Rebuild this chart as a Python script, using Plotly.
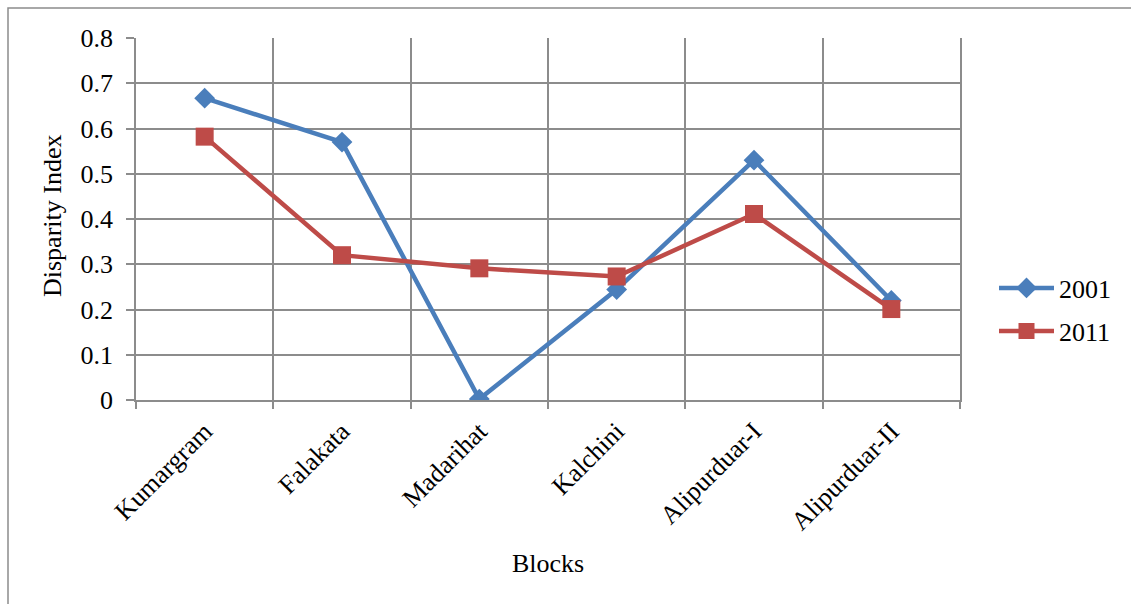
import plotly.graph_objects as go

blocks = ["Kumargram", "Falakata", "Madarihat", "Kalchini", "Alipurduar-I", "Alipurduar-II"]
di_2001 = [0.667, 0.570, 0.002, 0.244, 0.530, 0.220]
di_2011 = [0.582, 0.320, 0.291, 0.273, 0.411, 0.201]
y_ticks = [0, 0.1, 0.2, 0.3, 0.4, 0.5, 0.6, 0.7, 0.8]

FONT = "Liberation Serif, Times New Roman, serif"
GRID = "#8c8c8c"
FS = 26

fig = go.Figure()
fig.add_trace(go.Scatter(
    x=blocks, y=di_2001, name="2001", mode="lines+markers",
    line=dict(color="#4a7ebb", width=4.5),
    marker=dict(symbol="diamond", size=16, color="#4a7ebb"),
    legend="legend",
))
fig.add_trace(go.Scatter(
    x=blocks, y=di_2011, name="2011", mode="lines+markers",
    line=dict(color="#be4b48", width=4.5),
    marker=dict(symbol="square", size=18, color="#be4b48"),
    legend="legend2",
))

fig.update_layout(
    width=1131, height=604,
    margin=dict(l=136, r=171, t=38, b=204, autoexpand=False),
    paper_bgcolor="white", plot_bgcolor="white",
    font=dict(family=FONT, size=FS, color="black"),
    showlegend=True,
    legend=dict(x=(994 - 136) / 824, y=(400 - 288) / 362, xanchor="left", yanchor="middle",
                itemwidth=55, font=dict(size=FS), bgcolor="rgba(0,0,0,0)"),
    legend2=dict(x=(994 - 136) / 824, y=(400 - 331) / 362, xanchor="left", yanchor="middle",
                 itemwidth=55, font=dict(size=FS), bgcolor="rgba(0,0,0,0)"),
    xaxis=dict(
        type="category", range=[-0.5, 5.5], tickson="boundaries",
        showgrid=True, gridcolor=GRID, gridwidth=1.5,
        ticks="outside", ticklen=7, tickcolor=GRID, tickwidth=1.5,
        tickangle=-45, tickfont=dict(size=FS), ticklabelstandoff=4,
        showline=True, linecolor=GRID, linewidth=1.5,
        zeroline=False, automargin=False,
    ),
    yaxis=dict(
        range=[0, 0.8], tickvals=y_ticks, ticktext=[f"{v:g}" for v in y_ticks],
        showgrid=True, gridcolor=GRID, gridwidth=1.5,
        ticks="outside", ticklen=8, tickcolor=GRID, tickwidth=1.5,
        tickfont=dict(size=FS), ticklabelstandoff=8,
        showline=True, linecolor=GRID, linewidth=1.5, mirror=True,
        zeroline=False, automargin=False,
    ),
    annotations=[
        dict(text="Blocks", xref="paper", yref="paper", x=0.5, y=(400 - 563) / 362,
             xanchor="center", yanchor="middle", showarrow=False, font=dict(size=FS)),
        dict(text="Disparity Index", xref="paper", yref="paper", x=(52 - 136) / 824,
             y=(400 - 216) / 362, xanchor="center", yanchor="middle", textangle=-90,
             showarrow=False, font=dict(size=FS)),
    ],
    shapes=[dict(type="rect", xref="paper", yref="paper",
                 x0=(8 - 136) / 824, x1=1.3, y0=-0.7, y1=(400 - 8) / 362,
                 line=dict(color=GRID, width=1.5), fillcolor="rgba(0,0,0,0)",
                 layer="below")],
)

fig.write_html("out.html")
